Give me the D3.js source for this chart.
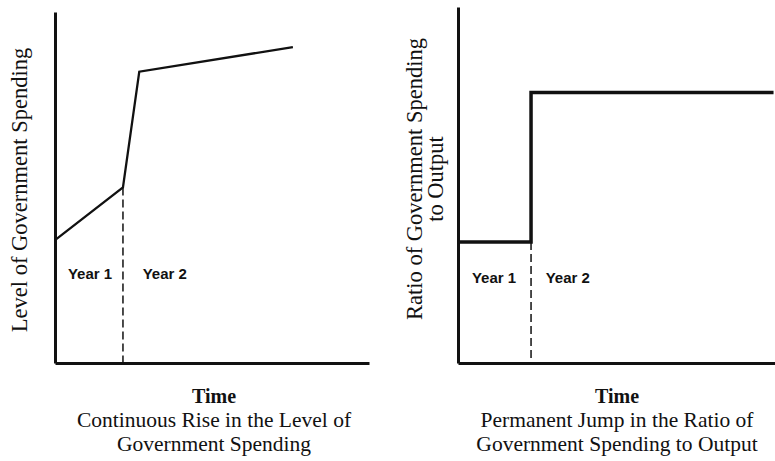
<!DOCTYPE html>
<html>
<head>
<meta charset="utf-8">
<script src="https://d3js.org/d3.v7.min.js"></script>
<style>
    body { margin: 0; background: #fff; }
    .axis-title { font-family: "Liberation Serif", serif; font-size: 22.5px; fill: #111; }
    .caption { font-family: "Liberation Serif", serif; font-size: 21.5px; fill: #111; }
    .caption-bold { font-weight: bold; font-size: 20px; }
    .year-label { font-family: "Liberation Sans", Arial, sans-serif; font-weight: bold; font-size: 15px; fill: #111; }
</style>
</head>
<body>
<div id="chart_main"></div>
<script>

// Left panel: level of government spending over time (years)
const levelTime = [0, 1, 1.24, 3.5]
const levelValues = [3.5, 5.0, 8.3, 9.0]

// Right panel: ratio of government spending to output (step)
const ratioTime = [0, 1, 1, 4.32]
const ratioValues = [3.4, 3.4, 7.6, 7.6]

// Year boundary and labels
const yearBoundary = 1
const yearLabels = ['Year 1', 'Year 2']
const yearLabelTime = [0.19, 1.29]
const ratioYearLabelTime = [0.19, 1.2]

// Text
const leftTitle = ['Level of Government Spending']
const rightTitle = ['Ratio of Government Spending', 'to Output']
const leftCaption = ['Continuous Rise in the Level of', 'Government Spending']
const rightCaption = ['Permanent Jump in the Ratio of', 'Government Spending to Output']

class panel_chart {
    constructor(svg, opts) {
        this.svg = svg
        this.opts = opts

        // Scales
        this.scaleX = d3.scaleLinear()
            .domain(opts.xDomain)
            .range([opts.left, opts.right])
        this.scaleY = d3.scaleLinear()
            .domain([0, 10])
            .range([opts.bottom, opts.top])
    }

    draw() {
        let g = this.svg.append('g')

        // Axes (domain line only)
        g.append('g')
            .attr('transform', 'translate(' + this.opts.left + ',0)')
            .call(d3.axisLeft(this.scaleY).ticks(0).tickSizeOuter(0))
            .call(a => a.select('.domain').attr('stroke', '#111').attr('stroke-width', 3))
        g.append('g')
            .attr('transform', 'translate(0,' + this.opts.bottom + ')')
            .call(d3.axisBottom(this.scaleX).ticks(0).tickSizeOuter(0))
            .call(a => a.select('.domain').attr('stroke', '#111').attr('stroke-width', 3))

        // Dashed year boundary
        let boundaryY = this.opts.values[d3.bisectLeft(this.opts.times, yearBoundary)]
        g.append('line')
            .attr('x1', this.scaleX(yearBoundary))
            .attr('x2', this.scaleX(yearBoundary))
            .attr('y1', this.scaleY(boundaryY))
            .attr('y2', this.opts.bottom)
            .attr('stroke', '#111')
            .attr('stroke-width', 1.5)
            .attr('stroke-dasharray', '8,4')

        // Series line
        let line = d3.line()
            .x((d, i) => this.scaleX(this.opts.times[i]))
            .y(d => this.scaleY(d))
        g.append('path')
            .datum(this.opts.values)
            .attr('d', line)
            .attr('fill', 'none')
            .attr('stroke', '#111')
            .attr('stroke-width', this.opts.lineWidth)
            .attr('stroke-linejoin', 'miter')

        // Year labels
        g.selectAll('.year-label')
            .data(yearLabels)
            .join('text')
            .classed('year-label', true)
            .attr('x', (d, i) => this.scaleX(this.opts.yearLabelTime[i]))
            .attr('y', this.opts.yearBaseline)
            .text(d => d)

        // Rotated y title
        let title = g.append('text')
            .classed('axis-title', true)
            .attr('text-anchor', 'middle')
            .attr('transform', 'translate(' + this.opts.titleX + ',' + this.opts.titleY + ') rotate(-90)')
        title.selectAll('tspan')
            .data(this.opts.title)
            .join('tspan')
            .attr('x', 0)
            .attr('dy', (d, i) => i == 0 ? 0 : 21)
            .text(d => d)

        // Caption below
        let cx = this.opts.captionX
        g.append('text')
            .classed('caption caption-bold', true)
            .attr('text-anchor', 'middle')
            .attr('x', cx)
            .attr('y', 403)
            .text('Time')
        g.selectAll('.caption-line')
            .data(this.opts.caption)
            .join('text')
            .classed('caption caption-line', true)
            .attr('text-anchor', 'middle')
            .attr('x', cx)
            .attr('y', (d, i) => 427 + i * 23.5)
            .text(d => d)
    }
}

let svg = d3.select('#chart_main').append('svg')
    .attr('width', 775)
    .attr('height', 461)

const left_viz = new panel_chart(svg, {
    xDomain: [0, 4.62], left: 55, right: 369, top: 12, bottom: 363,
    times: levelTime, values: levelValues, lineWidth: 2.3,
    yearLabelTime: yearLabelTime, yearBaseline: 279,
    title: leftTitle, titleX: 27, titleY: 190,
    caption: leftCaption, captionX: 214
})
left_viz.draw()

const right_viz = new panel_chart(svg, {
    xDomain: [0, 4.34], left: 458, right: 775, top: 7, bottom: 363,
    times: ratioTime, values: ratioValues, lineWidth: 3.5,
    yearLabelTime: ratioYearLabelTime, yearBaseline: 283,
    title: rightTitle, titleX: 422, titleY: 179,
    caption: rightCaption, captionX: 617
})
right_viz.draw()

</script>
</body>
</html>
